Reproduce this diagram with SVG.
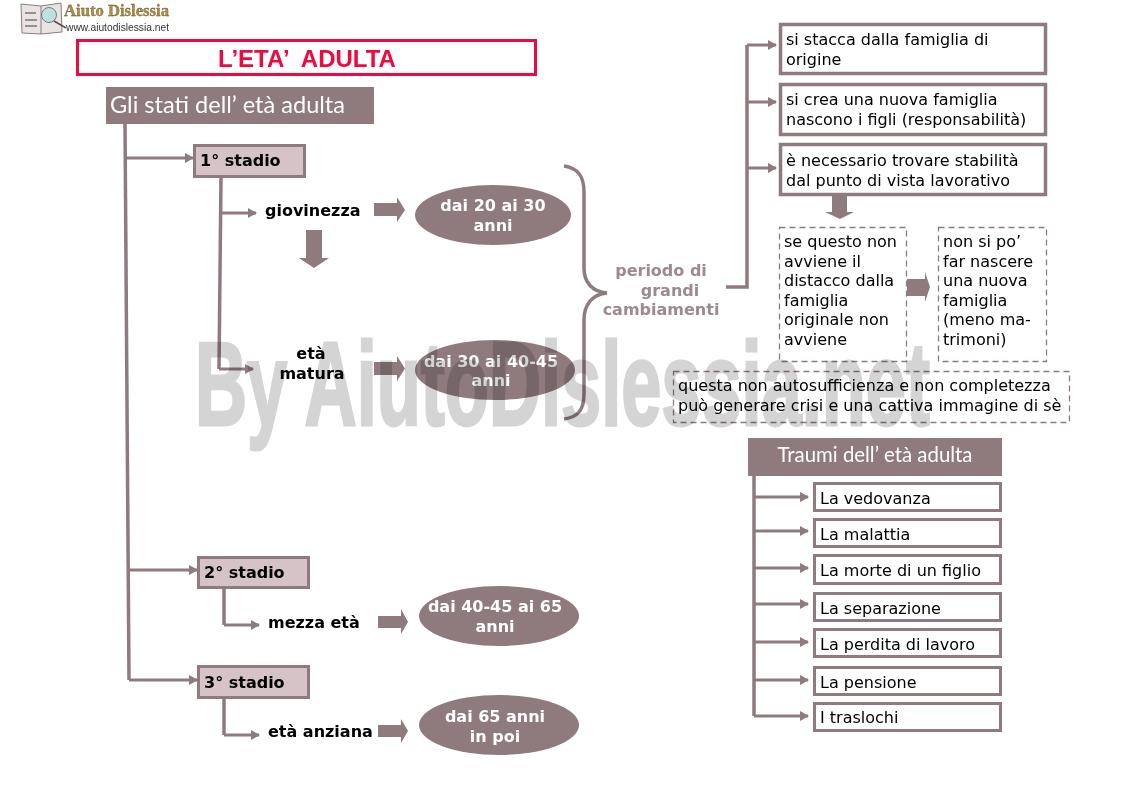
<svg xmlns="http://www.w3.org/2000/svg" width="1123" height="793" viewBox="0 0 1123 793">
<style>
text{font-family:"DejaVu Sans",Verdana,sans-serif;font-size:16px;fill:#000}
.b{font-weight:700;font-size:16px}
.w{fill:#fff;font-weight:700;text-anchor:middle;font-size:16px}
.h{font-family:"Lato","Open Sans",sans-serif;font-weight:400;fill:#fff;font-size:23px}
.box{fill:#fff;stroke:#8f7a7e;stroke-width:3.5}
.thin{fill:#fff;stroke:#8f7a7e;stroke-width:3}
.st{fill:#d5c3c7;stroke:#8f7a7e;stroke-width:3}
.dash{fill:none;stroke:#8f7a7e;stroke-width:1.3;stroke-dasharray:6 4}
.el,.hd,.ba{fill:#8f7a7e}
.ln{fill:none;stroke:#8f7a7e;stroke-width:3.5}
.ar{fill:none;stroke:#8f7a7e;stroke-width:3;marker-end:url(#m)}
</style>
<defs>
<marker id="m" markerUnits="userSpaceOnUse" markerWidth="9" markerHeight="10" refX="8" refY="5" orient="auto"><path d="M0 0L9 5L0 10Z" fill="#8f7a7e"/></marker>
</defs>
<rect width="1123" height="793" fill="#fff"/>
<g id="logo">
<path d="M21 4L41 6L61 3L62 32L41 34L22 33Z" fill="#e9e3e4" stroke="#8f7a7e"/>
<path d="M41 6V34" stroke="#8f7a7e"/>
<path d="M25 13L36 13M25 20L37 20M25 26L37 26" stroke="#9a8f90" stroke-width="2"/>
<circle cx="49" cy="15" r="7.500" fill="#bfe0dd" stroke="#6f7f80"/>
<path d="M54 21L66 28" stroke="#66484f" stroke-width="1.500"/>
<text x="64" y="16" style="font-family:'Liberation Serif',serif;font-size:17px;font-weight:700;fill:#b08c3e;stroke:#5a4a2a;stroke-width:.3" textLength="105" lengthAdjust="spacingAndGlyphs">Aiuto Dislessia</text>
<text x="66" y="31" style="font-family:'Liberation Sans',sans-serif;font-size:11px;fill:#333" textLength="103" lengthAdjust="spacingAndGlyphs">www.aiutodislessia.net</text>
</g>
<g id="connectors">
<path class="ln" d="M125 124L129 680"/>
<path class="ar" d="M125 158H193"/><path class="ar" d="M128 570H197"/><path class="ar" d="M129 680H197"/>
<path class="ln" d="M221 177L219 369"/>
<path class="ar" d="M221 213H256"/><path class="ar" d="M219 369H253"/>
<path class="ln" d="M224 588V625"/><path class="ar" d="M224 625H259"/>
<path class="ln" d="M224 698V735"/><path class="ar" d="M224 735H259"/>
<path class="ln" d="M564 166C578 168 584 176 584 192V268C584 283 593 292 607 293C593 294 584 304 584 320V394C584 410 578 417 564 419"/>
<path class="ln" d="M726 287H747V45"/>
<path class="ar" d="M747 45H776"/><path class="ar" d="M747 102H776"/><path class="ar" d="M747 168H776"/>
<path class="ln" d="M754 476V716"/>
<path class="ar" d="M754 497H808"/><path class="ar" d="M754 531H808"/><path class="ar" d="M754 568H808"/><path class="ar" d="M754 604H808"/><path class="ar" d="M754 642H808"/><path class="ar" d="M754 680H808"/><path class="ar" d="M754 716H808"/>
<path class="ba" d="M374 203H397V197L405 210L397 222V216H374Z"/>
<path class="ba" d="M374 362H397V356L405 368.500L397 381V375H374Z"/>
<path class="ba" d="M378 616H401V609L408 622L401 634V628H378Z"/>
<path class="ba" d="M378 725H401V719L408 731L401 743V737H378Z"/>
<path class="ba" d="M306 230H322V258H329L314 268L299 258H306Z"/>
<path class="ba" d="M832 195H847V212H854L840 219L825 212H832Z"/>
<path class="ba" d="M907 279H925V272L930 287L925 302V296H907Z"/>
</g>
<g id="title"><rect x="77.500" y="40.500" width="458" height="34" fill="#fff" stroke="#f0093f" stroke-width="3"/><text x="307" y="67" text-anchor="middle" style="font-family:'Liberation Sans',sans-serif;font-size:24px;font-weight:700;fill:#f0093f" xml:space="preserve">L’ETA’  ADULTA</text></g>
<g id="header1"><rect class="hd" x="106" y="87" width="268" height="37"/><text class="h" x="110" y="113" textLength="235" lengthAdjust="spacingAndGlyphs">Gli stati dell’ età adulta</text></g>
<g id="stadio1"><rect class="st" x="194.500" y="145.500" width="110" height="31"/><text class="b" x="200" y="166">1° stadio</text></g>
<g id="giovinezza"><text class="b" x="265" y="216">giovinezza</text></g>
<g id="ell1"><ellipse class="el" cx="493" cy="215" rx="78" ry="30"/><text class="w" x="493" y="211">dai 20 ai 30</text><text class="w" x="493" y="231">anni</text></g>
<g id="matura"><text class="b" x="311" y="359" text-anchor="middle">età</text><text class="b" x="312" y="379" text-anchor="middle">matura</text></g>
<g id="ell2"><ellipse class="el" cx="495" cy="370" rx="80" ry="30"/><text class="w" x="491" y="367">dai 30 ai 40-45</text><text class="w" x="491" y="386">anni</text></g>
<g id="stadio2"><rect class="st" x="198.500" y="557.500" width="110" height="30"/><text class="b" x="204" y="578">2° stadio</text></g>
<g id="mezza"><text class="b" x="268" y="628">mezza età</text></g>
<g id="ell3"><ellipse class="el" cx="499" cy="616" rx="80" ry="30"/><text class="w" x="495" y="612">dai 40-45 ai 65</text><text class="w" x="495" y="632">anni</text></g>
<g id="stadio3"><rect class="st" x="198.500" y="666.500" width="110" height="31"/><text class="b" x="204" y="688">3° stadio</text></g>
<g id="anziana"><text class="b" x="268" y="737">età anziana</text></g>
<g id="ell4"><ellipse class="el" cx="499" cy="725" rx="80" ry="30"/><text class="w" x="495" y="722">dai 65 anni</text><text class="w" x="495" y="742">in poi</text></g>
<g id="periodo" style="text-anchor:middle"><text class="b" x="661" y="276" style="fill:#9d8a8e">periodo di</text><text class="b" x="670" y="296" style="fill:#9d8a8e">grandi</text><text class="b" x="661" y="315" style="fill:#9d8a8e">cambiamenti</text></g>
<g id="b1"><rect class="box" x="780.500" y="24.500" width="265" height="49"/><text x="786" y="45">si stacca dalla famiglia di</text><text x="786" y="65">origine</text></g>
<g id="b2"><rect class="box" x="780.500" y="84.500" width="265" height="50"/><text x="786" y="105">si crea una nuova famiglia</text><text x="786" y="125">nascono i figli (responsabilità)</text></g>
<g id="b3"><rect class="box" x="780.500" y="144.500" width="265" height="50"/><text x="786" y="166">è necessario trovare stabilità</text><text x="786" y="186">dal punto di vista lavorativo</text></g>
<g id="d1"><rect class="dash" x="779.500" y="227.500" width="127" height="134"/><text x="784" y="247">se questo non</text><text x="784" y="267">avviene il</text><text x="784" y="286">distacco dalla</text><text x="784" y="306">famiglia</text><text x="784" y="325">originale non</text><text x="784" y="345">avviene</text></g>
<g id="d2"><rect class="dash" x="938.500" y="227.500" width="108" height="134"/><text x="943" y="247">non si po’</text><text x="943" y="267">far nascere</text><text x="943" y="286">una nuova</text><text x="943" y="306">famiglia</text><text x="943" y="325">(meno ma-</text><text x="943" y="345">trimoni)</text></g>
<g id="d3"><rect class="dash" x="673.500" y="371.500" width="396" height="51"/><text x="678" y="391">questa non autosufficienza e non completezza</text><text x="678" y="411">può generare crisi e una cattiva immagine di sè</text></g>
<g id="header2"><rect class="hd" x="748" y="438" width="254" height="38"/><text class="h" x="875" y="462" text-anchor="middle" style="font-size:21px" textLength="195" lengthAdjust="spacingAndGlyphs">Traumi dell’ età adulta</text></g>
<g id="t1"><rect class="thin" x="814.500" y="483.500" width="186" height="27"/><text x="820" y="504">La vedovanza</text></g>
<g id="t2"><rect class="thin" x="814.500" y="519.500" width="186" height="27"/><text x="820" y="540">La malattia</text></g>
<g id="t3"><rect class="thin" x="814.500" y="555.500" width="186" height="28"/><text x="820" y="576">La morte di un figlio</text></g>
<g id="t4"><rect class="thin" x="814.500" y="593.500" width="186" height="27"/><text x="820" y="614">La separazione</text></g>
<g id="t5"><rect class="thin" x="814.500" y="629.500" width="186" height="27"/><text x="820" y="650">La perdita di lavoro</text></g>
<g id="t6"><rect class="thin" x="814.500" y="667.500" width="186" height="27"/><text x="820" y="688">La pensione</text></g>
<g id="t7"><rect class="thin" x="814.500" y="703.500" width="186" height="27"/><text x="820" y="723">I traslochi</text></g>
<text x="195" y="425" style="font-family:'Liberation Sans',sans-serif;font-weight:700;font-size:119px;fill:#d4d4d4;stroke:#d4d4d4;stroke-width:3;mix-blend-mode:multiply" textLength="735" lengthAdjust="spacingAndGlyphs">By AiutoDislessia.net</text>
</svg>
